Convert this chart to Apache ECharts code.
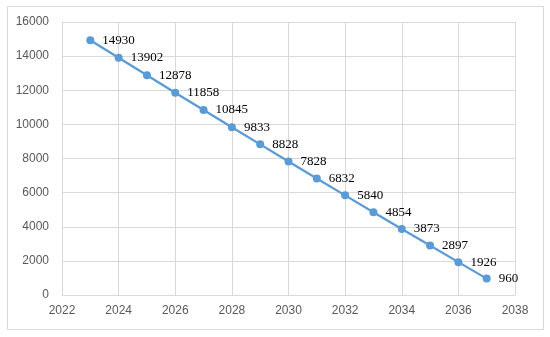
<!DOCTYPE html>
<html><head><meta charset="utf-8">
<script src="https://cdn.jsdelivr.net/npm/echarts@6/dist/echarts.min.js"></script>
<style>html,body{margin:0;padding:0;background:#fff;}#c{width:550px;height:337px;}</style>
</head><body><div id="c"></div>
<script>
const years = [2023,2024,2025,2026,2027,2028,2029,2030,2031,2032,2033,2034,2035,2036,2037];
const values = [14930,13902,12878,11858,10845,9833,8828,7828,6832,5840,4854,3873,2897,1926,960];
const chart = echarts.init(document.getElementById('c'), null, {renderer:'canvas'});
chart.setOption({
  animation:false,
  backgroundColor:'#fff',
  graphic:[{type:'rect',shape:{x:7.5,y:6.5,width:536,height:323},style:{fill:'none',stroke:'#d9d9d9',lineWidth:1}}],
  grid:{left:62,right:35,top:22,bottom:42},
  xAxis:{type:'value',min:2022,max:2038,interval:2,
    axisLine:{show:true,lineStyle:{color:'#d9d9d9'}},axisTick:{show:false},
    splitLine:{show:true,lineStyle:{color:'#d9d9d9'}},
    axisLabel:{color:'#595959',fontSize:12,fontFamily:'Liberation Sans, Arial',margin:10,formatter:v=>String(v)}},
  yAxis:{type:'value',min:0,max:16000,interval:2000,
    axisLine:{show:true,lineStyle:{color:'#d9d9d9'}},axisTick:{show:false},
    splitLine:{show:true,lineStyle:{color:'#d9d9d9'}},
    axisLabel:{color:'#595959',fontSize:12,fontFamily:'Liberation Sans, Arial',margin:13,formatter:v=>String(v)}},
  series:[{type:'line',data:years.map((y,i)=>[y,values[i]]),
    lineStyle:{color:'#5b9bd5',width:2.25},
    itemStyle:{color:'#5b9bd5'},symbol:'circle',symbolSize:8,
    label:{show:true,position:'right',offset:[3,0],color:'#000',fontSize:13,fontFamily:'Liberation Serif, Times New Roman',formatter:p=>p.value[1]}}]
});
</script></body></html>
